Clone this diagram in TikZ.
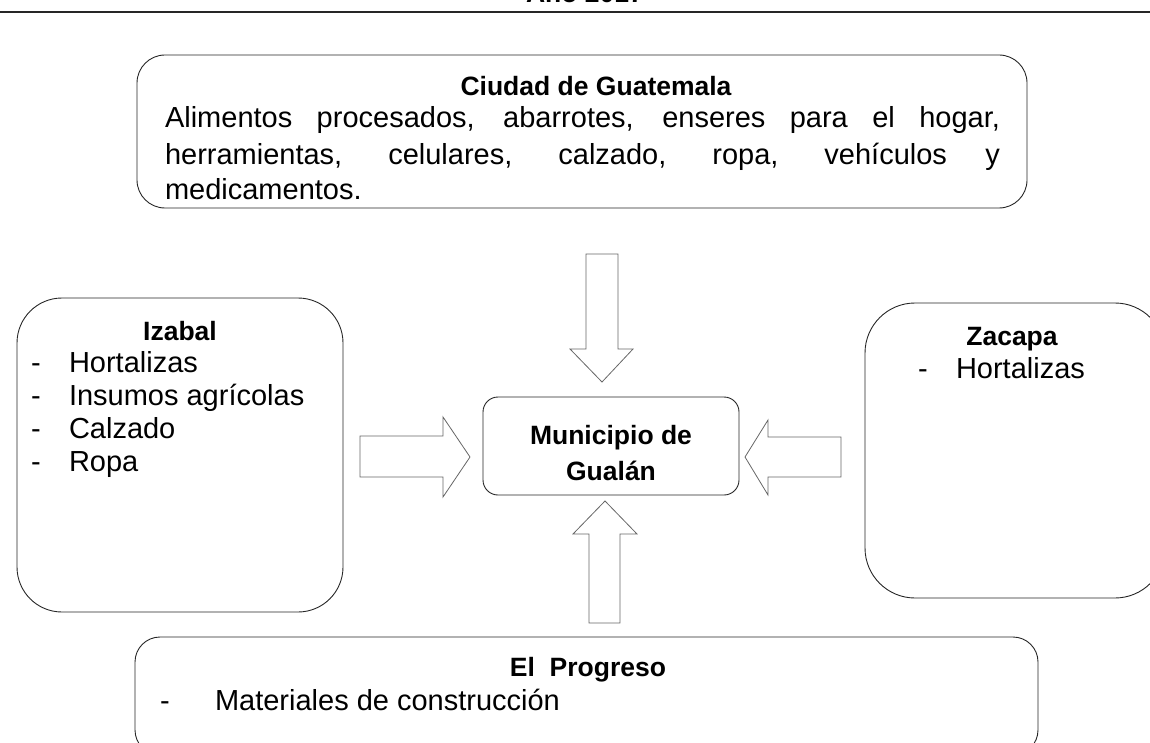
\documentclass[tikz,border=0pt]{standalone}
\usepackage{fontspec}
\setmainfont{Liberation Sans}
\begin{document}
\begin{tikzpicture}[x=1pt,y=-1pt,
  region/.style={draw=black!85, line width=0.9pt, inner sep=0pt, outer sep=0pt},
  blockarrow/.style={draw=black!60, line width=0.8pt, line join=miter},
  txt/.style={inner sep=0pt, outer sep=0pt, font=\fontsize{29}{34}\selectfont},
  btxt/.style={inner sep=0pt, outer sep=0pt, font=\fontsize{26.5}{32}\selectfont\bfseries}]
\useasboundingbox (0,0) rectangle (1150,743);
\clip (0,0) rectangle (1150,743);
% heading (cut off) and rule
\node[btxt, anchor=base] (year) at (585,3) {Año 2017};
\draw[line width=1.6pt, black!85] (0,12) -- (1150,12);
% boxes
\node[region, rounded corners=28pt, minimum width=890pt, minimum height=153pt] (gua) at (582,131.5) {};
\node[region, rounded corners=45pt, minimum width=326pt, minimum height=314pt] (iza) at (180,455) {};
\node[region, rounded corners=50pt, minimum width=300pt, minimum height=295pt] (zac) at (1015,450.5) {};
\node[region, rounded corners=15pt, minimum width=256pt, minimum height=98pt] (mun) at (611,446) {};
\node[region, rounded corners=25pt, minimum width=903pt, minimum height=118pt] (pro) at (586.5,696) {};
% texts: Ciudad de Guatemala
\node[btxt, anchor=base] (guat) at (596,96) {Ciudad de Guatemala};
\node[txt, anchor=base west] (gua1) at (165,128) {\makebox[835pt][s]{Alimentos procesados, abarrotes, enseres para el hogar,}};
\node[txt, anchor=base west] (gua2) at (165,165) {\makebox[835pt][s]{herramientas, celulares, calzado, ropa, vehículos y}};
\node[txt, anchor=base west] (gua3) at (165,200) {medicamentos.};
% Izabal
\node[btxt, anchor=base] (izat) at (180,340) {Izabal};
\foreach \t/\y [count=\i] in {Hortalizas/372, Insumos agrícolas/405, Calzado/438, Ropa/471}{
  \node[txt, anchor=base west] (izad\i) at (31,\y) {-};
  \node[txt, anchor=base west] (iza\i) at (69,\y) {\t};
}
% Zacapa
\node[btxt, anchor=base] (zact) at (1012,345) {Zacapa};
\node[txt, anchor=base west] (zacd) at (918,378) {-};
\node[txt, anchor=base west] (zac1) at (956,378) {Hortalizas};
% Municipio
\node[btxt, anchor=base] (munt1) at (611,444) {Municipio de};
\node[btxt, anchor=base] (munt2) at (611,480) {Gualán};
% El Progreso
\node[btxt, anchor=base] (prot) at (588,676) {El\ \ Progreso};
\node[txt, anchor=base west] (prod) at (160,710) {-};
\node[txt, anchor=base west] (pro1) at (215,710) {Materiales de construcción};
% block arrows
\draw[blockarrow] (586,254) -- (618,254) -- (618,349) -- (633,349) -- (602,382) -- (570,349) -- (586,349) -- cycle;
\draw[blockarrow] (360,436) -- (443,436) -- (443,417) -- (470,457) -- (443,497) -- (443,477) -- (360,477) -- cycle;
\draw[blockarrow] (841,437) -- (768,437) -- (768,420) -- (745,457) -- (768,495) -- (768,477) -- (841,477) -- cycle;
\draw[blockarrow] (589,623) -- (620,623) -- (620,534) -- (637,534) -- (605,501) -- (573,534) -- (589,534) -- cycle;
\end{tikzpicture}
\end{document}
